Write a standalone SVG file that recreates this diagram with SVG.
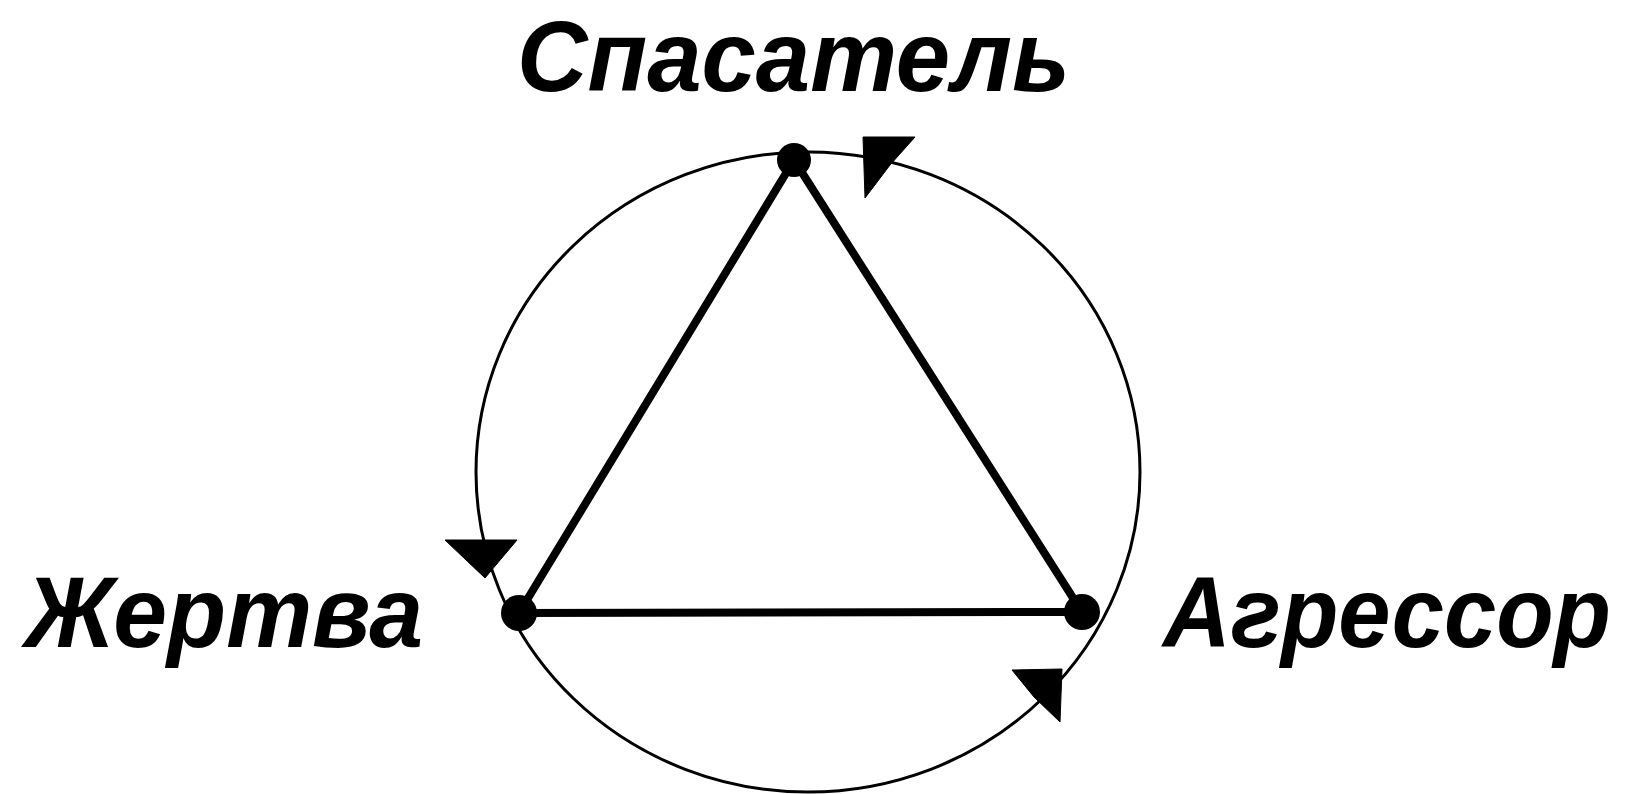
<svg xmlns="http://www.w3.org/2000/svg" width="1630" height="794" viewBox="0 0 1630 794">
  <style>
    .ring { fill: none; stroke: #000; stroke-width: 3; }
    .edge { stroke: #000; stroke-width: 8; stroke-linecap: round; }
    .head { fill: #000; stroke: #000; stroke-width: 1; stroke-linejoin: round; }
    .dot { fill: #000; }
    .lbl { font-family: "Liberation Sans", Arial, sans-serif; font-weight: bold; font-style: italic; font-size: 100px; fill: #000; }
  </style>
  <rect width="1630" height="794" fill="#fff"/>
  <g id="connectors">
    <ellipse class="ring" cx="808" cy="472" rx="332" ry="320"/>
    <line class="edge" x1="794" y1="160" x2="519" y2="613"/>
    <line class="edge" x1="794" y1="160" x2="1082" y2="612"/>
    <line class="edge" x1="519" y1="613" x2="1082" y2="612"/>
    <polygon class="head" points="863,137 915,137 890,165 865,198"/>
    <polygon class="head" points="445,540 517,540 485,578"/>
    <polygon class="head" points="1062,669 1012,670 1034,697 1060,722"/>
  </g>
  <g id="node-rescuer">
    <circle class="dot" cx="794" cy="160" r="17"/>
    <text class="lbl" x="517" y="91" textLength="553" lengthAdjust="spacingAndGlyphs">Спасатель</text>
  </g>
  <g id="node-victim">
    <circle class="dot" cx="519" cy="613" r="18"/>
    <text class="lbl" x="25" y="647" textLength="398" lengthAdjust="spacingAndGlyphs">Жертва</text>
  </g>
  <g id="node-aggressor">
    <circle class="dot" cx="1082" cy="612" r="18"/>
    <text class="lbl" x="1611" y="647" text-anchor="end" textLength="448" lengthAdjust="spacingAndGlyphs">Агрессор</text>
  </g>
</svg>
